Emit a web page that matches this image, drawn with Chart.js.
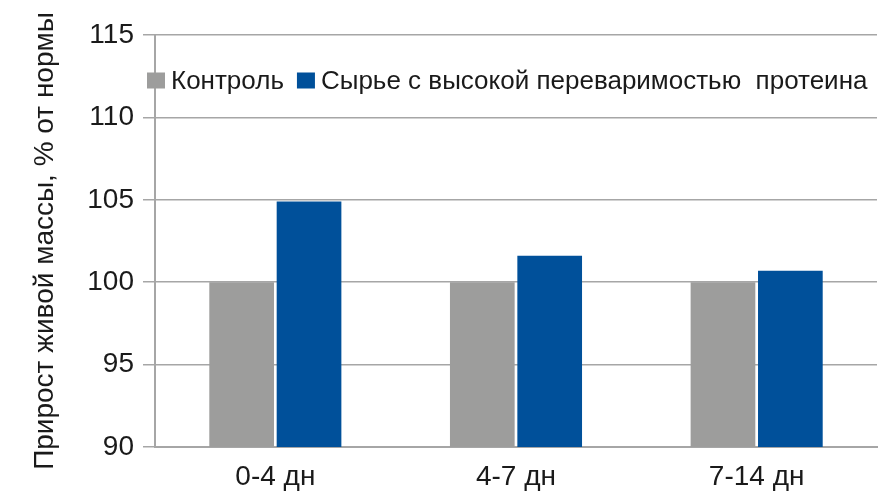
<!DOCTYPE html>
<html>
<head>
<meta charset="utf-8">
<script src="https://cdn.jsdelivr.net/npm/chart.js@4.4.1/dist/chart.umd.min.js"></script>
<style>
  html, body { margin: 0; padding: 0; background: #ffffff; }
  #wrap { width: 878px; height: 493px; }
</style>
</head>
<body>
<div id="wrap"><canvas id="chart" width="878" height="493"></canvas></div>
<script>
// Live-weight gain relative to the norm, by age period
const categories = ['0-4 дн', '4-7 дн', '7-14 дн'];
const seriesNames = ['Контроль', 'Сырье с высокой переваримостью  протеина'];
const controlValues = [100, 100, 100];
const digestibleValues = [104.9, 101.6, 100.7];
const yTicks = [90, 95, 100, 105, 110, 115];
const yTitle = 'Прирост живой массы, % от нормы';

const FONT = "'Liberation Sans', Arial, sans-serif";
const TEXT = '#1a1a1a';
const GRID = '#a6a6a6';
const colors = ['#9d9d9c', '#00509a'];

// Legend drawn inside the plot, between the two top gridlines
const insideLegend = {
  id: 'insideLegend',
  afterDraw(chart) {
    const ctx = chart.ctx;
    const cy = 80.5;
    const bw = 18, bh = 16;
    let x = 147;
    ctx.save();
    ctx.font = '26px ' + FONT;
    ctx.textBaseline = 'middle';
    chart.data.datasets.forEach((ds) => {
      ctx.fillStyle = ds.backgroundColor;
      ctx.fillRect(x, cy - bh / 2, bw, bh);
      x += bw + 6;
      ctx.fillStyle = TEXT;
      ctx.fillText(ds.label, x, cy + 1);
      x += ctx.measureText(ds.label).width + 13;
    });
    ctx.restore();
  }
};

new Chart(document.getElementById('chart'), {
  type: 'bar',
  data: {
    labels: categories,
    datasets: [
      { label: seriesNames[0], data: controlValues, backgroundColor: colors[0] },
      { label: seriesNames[1], data: digestibleValues, backgroundColor: colors[1] }
    ]
  },
  options: {
    responsive: false,
    animation: false,
    devicePixelRatio: 1,
    layout: { padding: { top: 35, right: 1, left: 20, bottom: 0 } },
    datasets: { bar: { categoryPercentage: 0.56, barPercentage: 0.96 } },
    plugins: {
      legend: { display: false },
      tooltip: { enabled: false }
    },
    scales: {
      x: {
        afterFit(scale) { scale.height = 46; },
        grid: { display: false, drawTicks: false },
        border: { display: true, color: GRID, width: 2 },
        ticks: { color: TEXT, font: { family: FONT, size: 28 }, padding: 13 }
      },
      y: {
        min: 90,
        max: 115,
        afterBuildTicks(scale) { scale.ticks = yTicks.map(v => ({ value: v })); },
        afterFit(scale) { scale.width = 135; },
        grid: { color: GRID, lineWidth: 1.5, tickLength: 12, drawTicks: true },
        border: { display: true, color: GRID, width: 2 },
        ticks: { color: TEXT, font: { family: FONT, size: 28 }, padding: 9 },
        title: {
          display: true,
          text: yTitle,
          color: TEXT,
          font: { family: FONT, size: 28 },
          padding: { top: 8, bottom: 0 }
        }
      }
    }
  },
  plugins: [insideLegend]
});
</script>
</body>
</html>
